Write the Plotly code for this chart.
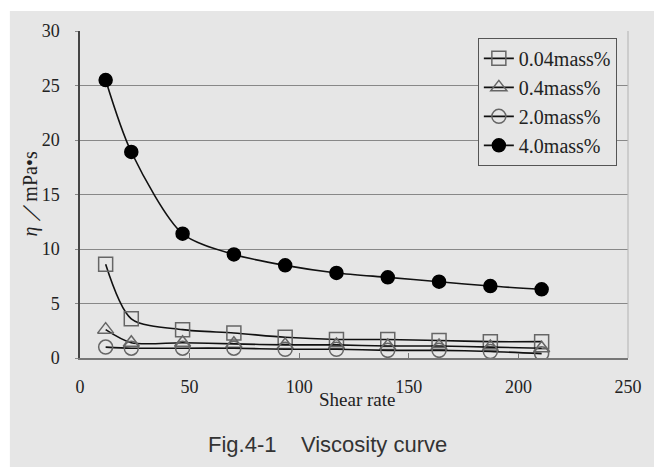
import plotly.graph_objects as go

shear_rate = [11.7, 23.4, 46.8, 70.2, 93.6, 117.0, 140.4, 163.8, 187.2, 210.6]
series_names = ["0.04mass%", "0.4mass%", "2.0mass%", "4.0mass%"]
eta_004 = [8.6, 3.6, 2.6, 2.3, 1.9, 1.7, 1.7, 1.6, 1.5, 1.5]
eta_04 = [2.6, 1.4, 1.4, 1.3, 1.2, 1.2, 1.1, 1.1, 1.0, 0.9]
eta_20 = [1.0, 0.9, 0.9, 0.9, 0.8, 0.8, 0.7, 0.7, 0.6, 0.4]
eta_40 = [25.5, 18.9, 11.4, 9.5, 8.5, 7.8, 7.4, 7.0, 6.6, 6.3]
x_ticks = [0, 50, 100, 150, 200, 250]
y_ticks = [0, 5, 10, 15, 20, 25, 30]

BG = "#e6e6e6"
SERIF = "Liberation Serif, Times New Roman, DejaVu Serif, serif"

fig = go.Figure()
styles = [
    (eta_004, "square-open", 14, "#666666"),
    (eta_04, "triangle-up-open", 14, "#666666"),
    (eta_20, "circle-open", 14, "#666666"),
    (eta_40, "circle", 13, "#000000"),
]
for name, (vals, sym, size, mcol) in zip(series_names, styles):
    fig.add_trace(go.Scatter(
        x=shear_rate, y=vals, name=name, mode="lines+markers",
        line=dict(color="#111111", width=1.6, shape="spline", smoothing=0.8),
        marker=dict(symbol=sym, size=size, color=mcol,
                    line=dict(color=mcol, width=1.5)),
    ))

fig.update_layout(
    width=654, height=467,
    margin=dict(l=80, r=19, t=31, b=109),
    paper_bgcolor=BG, plot_bgcolor=BG,
    showlegend=True,
    legend=dict(x=0.726, y=0.979, xanchor="left", yanchor="top",
                bgcolor=BG, bordercolor="#555555", borderwidth=1,
                font=dict(family=SERIF, size=20, color="#222222"),
                tracegroupgap=0, itemwidth=30),
    xaxis=dict(range=[0, 250], tickvals=x_ticks, showgrid=False,
               showline=True, linecolor="#777777", linewidth=1.5,
               ticks="inside", ticklen=5, tickcolor="#777777",
               tickfont=dict(family=SERIF, size=18, color="#222222"),
               ticklabelstandoff=12, zeroline=False),
    yaxis=dict(range=[0, 30], tickvals=y_ticks, showgrid=True,
               gridcolor="#888888", gridwidth=1,
               showline=True, linecolor="#444444", linewidth=1.5,
               ticks="outside", ticklen=3, tickcolor="#888888",
               tickfont=dict(family=SERIF, size=18, color="#222222"),
               ticklabelstandoff=12, zeroline=False),
    shapes=[
        dict(type="rect", xref="paper", yref="paper", x0=-0.2, x1=1.1,
             y0=1.0612, y1=1.2, fillcolor="white", line=dict(width=0), layer="below"),
        dict(type="rect", xref="paper", yref="paper", x0=-0.2, x1=-0.128,
             y0=-0.5, y1=1.2, fillcolor="white", line=dict(width=0), layer="below"),
        dict(type="line", xref="paper", yref="paper", x0=1, x1=1, y0=0, y1=1,
             line=dict(color="#bbbbbb", width=1.2)),
    ],
    annotations=[
        dict(text="Shear rate", xref="paper", yref="paper", x=0.5063, y=-0.1284,
             xanchor="center", yanchor="middle",
             showarrow=False, font=dict(family=SERIF, size=19, color="#222222")),
        dict(text="<i>η</i> ／mPa•s", xref="paper", yref="paper", x=-0.092, y=0.5015,
             xanchor="center", yanchor="middle",
             textangle=-90, showarrow=False,
             font=dict(family=SERIF, size=20, color="#222222")),
        dict(text="Fig.4-1\u00a0\u00a0\u00a0\u00a0Viscosity curve", xref="paper", yref="paper",
             x=0.4523, y=-0.266, xanchor="center", yanchor="middle", showarrow=False,
             font=dict(family="Liberation Sans, Arial, sans-serif", size=22, color="#333333")),
    ],
)

fig.write_html("out.html")
